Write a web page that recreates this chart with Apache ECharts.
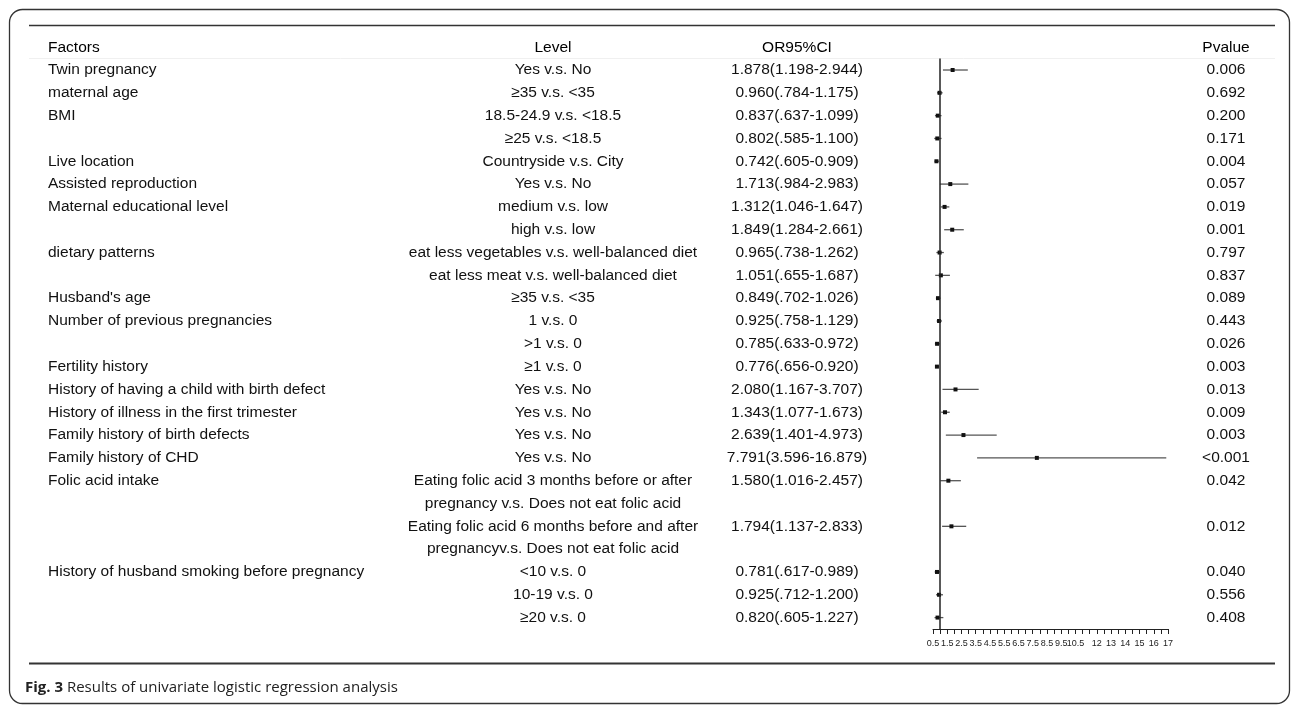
<!DOCTYPE html>
<html>
<head>
<meta charset="utf-8">
<script src="https://cdn.jsdelivr.net/npm/echarts@6/dist/echarts.min.js"></script>
<style>
  html, body { margin: 0; padding: 0; background: #fff; }
  #chart { width: 1292px; height: 706px; }
</style>
</head>
<body>
<div id="chart"></div>
<script>
// one entry per printed line of the table (folic acid levels take two lines)
var factors = ['Twin pregnancy', 'maternal age', 'BMI', '', 'Live location', 'Assisted reproduction',
  'Maternal educational level', '', 'dietary patterns', '', "Husband's age", 'Number of previous pregnancies', '',
  'Fertility history', 'History of having a child with birth defect', 'History of illness in the first trimester',
  'Family history of birth defects', 'Family history of CHD', 'Folic acid intake', '', '', '',
  'History of husband smoking before pregnancy', '', ''];
var levels = ['Yes v.s. No', '≥35 v.s. <35', '18.5-24.9 v.s. <18.5', '≥25 v.s. <18.5', 'Countryside v.s. City',
  'Yes v.s. No', 'medium v.s. low', 'high v.s. low', 'eat less vegetables v.s. well-balanced diet',
  'eat less meat v.s. well-balanced diet', '≥35 v.s. <35', '1 v.s. 0', '>1 v.s. 0', '≥1 v.s. 0',
  'Yes v.s. No', 'Yes v.s. No', 'Yes v.s. No', 'Yes v.s. No',
  'Eating folic acid 3 months before or after', 'pregnancy v.s. Does not eat folic acid',
  'Eating folic acid 6 months before and after', 'pregnancyv.s. Does not eat folic acid',
  '<10 v.s. 0', '10-19 v.s. 0', '≥20 v.s. 0'];
var orVals = [1.878, 0.960, 0.837, 0.802, 0.742, 1.713, 1.312, 1.849, 0.965, 1.051, 0.849, 0.925, 0.785,
  0.776, 2.080, 1.343, 2.639, 7.791, 1.580, null, 1.794, null, 0.781, 0.925, 0.820];
var ciLow = [1.198, 0.784, 0.637, 0.585, 0.605, 0.984, 1.046, 1.284, 0.738, 0.655, 0.702, 0.758, 0.633,
  0.656, 1.167, 1.077, 1.401, 3.596, 1.016, null, 1.137, null, 0.617, 0.712, 0.605];
var ciHigh = [2.944, 1.175, 1.099, 1.100, 0.909, 2.983, 1.647, 2.661, 1.262, 1.687, 1.026, 1.129, 0.972,
  0.920, 3.707, 1.673, 4.973, 16.879, 2.457, null, 2.833, null, 0.989, 1.200, 1.227];
var pvalues = ['0.006', '0.692', '0.200', '0.171', '0.004', '0.057', '0.019', '0.001', '0.797', '0.837',
  '0.089', '0.443', '0.026', '0.003', '0.013', '0.009', '0.003', '<0.001', '0.042', '', '0.012', '',
  '0.040', '0.556', '0.408'];

var rowIds = levels.map(function (d, i) { return String(i); });
var orText = orVals.map(function (v, i) {
  if (v == null) return '';
  return v.toFixed(3) + '(' + ciLow[i].toFixed(3).replace(/^0/, '') + '-' + ciHigh[i].toFixed(3) + ')';
});
var forestData = [];
orVals.forEach(function (v, i) {
  if (v != null) forestData.push([i, ciLow[i], ciHigh[i], v]);
});

var FONT = "'Liberation Sans', Arial, sans-serif";
var txt = { color: '#111', fontSize: 15.5, fontFamily: FONT };

function colAxis(pos, margin, align, arr) {
  return {
    type: 'category', data: rowIds, inverse: true, position: pos,
    axisLine: { show: false }, axisTick: { show: false }, splitLine: { show: false },
    axisLabel: Object.assign({
      interval: 0, margin: margin, align: align,
      formatter: function (v, i) { return arr[i]; }
    }, txt)
  };
}

var myChart = echarts.init(document.getElementById('chart'));
myChart.setOption({
  backgroundColor: '#fff',
  animation: false,
  grid: { left: 933, right: 124, top: 58.6, height: 570.4 },
  xAxis: {
    type: 'value', min: 0.5, max: 17, interval: 0.5,
    splitLine: { show: false },
    axisLine: { show: true, lineStyle: { color: '#222', width: 1 } },
    axisTick: { show: true, length: 5, lineStyle: { color: '#222', width: 1 } },
    axisLabel: {
      margin: 10, fontSize: 9, color: '#222', fontFamily: FONT, hideOverlap: false,
      showMinLabel: true, showMaxLabel: true,
      formatter: function (v) {
        if (v <= 10.5 && (v * 2) % 2 === 1) return String(v);
        if (v >= 12 && v % 1 === 0) return String(v);
        return '';
      }
    }
  },
  yAxis: [
    colAxis('left', 885, 'left', factors),
    colAxis('left', 380, 'center', levels),
    colAxis('left', 136, 'center', orText),
    colAxis('right', 58, 'center', pvalues)
  ],
  series: [{
    type: 'custom',
    yAxisIndex: 0,
    encode: { x: [1, 2, 3], y: 0 },
    data: forestData,
    renderItem: function (params, api) {
      var row = api.value(0);
      var a = api.coord([api.value(1), row]);
      var b = api.coord([api.value(2), row]);
      var c = api.coord([api.value(3), row]);
      return {
        type: 'group',
        children: [
          { type: 'line', shape: { x1: a[0], y1: a[1], x2: b[0], y2: b[1] },
            style: { stroke: '#555', lineWidth: 1.3 } },
          { type: 'rect', shape: { x: c[0] - 2, y: c[1] - 2, width: 4, height: 4 },
            style: { fill: '#111' } }
        ]
      };
    },
    markLine: {
      silent: true, symbol: 'none', label: { show: false },
      lineStyle: { color: '#222', width: 1.5, type: 'solid' },
      data: [{ xAxis: 1 }]
    }
  }],
  graphic: [
    { type: 'rect', shape: { x: 9.5, y: 9.5, width: 1280, height: 694, r: 13 },
      style: { fill: 'none', stroke: '#333', lineWidth: 1.3 } },
    { type: 'line', shape: { x1: 29, y1: 25.5, x2: 1275, y2: 25.5 },
      style: { stroke: '#333', lineWidth: 1.5 } },
    { type: 'line', shape: { x1: 29, y1: 663.5, x2: 1275, y2: 663.5 },
      style: { stroke: '#333', lineWidth: 2 } },
    { type: 'line', shape: { x1: 29, y1: 58.5, x2: 1275, y2: 58.5 },
      style: { stroke: '#f0f0f0', lineWidth: 1 } },
    { type: 'text', x: 48, y: 48, style: Object.assign({ text: 'Factors', align: 'left', verticalAlign: 'middle' }, txt) },
    { type: 'text', x: 553, y: 48, style: Object.assign({ text: 'Level', align: 'center', verticalAlign: 'middle' }, txt) },
    { type: 'text', x: 797, y: 48, style: Object.assign({ text: 'OR95%CI', align: 'center', verticalAlign: 'middle' }, txt) },
    { type: 'text', x: 1226, y: 48, style: Object.assign({ text: 'Pvalue', align: 'center', verticalAlign: 'middle' }, txt) },
    { type: 'text', x: 25, y: 688, style: {
      text: '{b|Fig. 3} Results of univariate logistic regression analysis',
      fontFamily: "'Open Sans', sans-serif", fontSize: 15, fill: '#222', verticalAlign: 'middle',
      rich: { b: { fontWeight: 'bold', fontFamily: "'Open Sans', sans-serif", fontSize: 15, fill: '#222' } }
    } }
  ]
});
window.addEventListener('resize', function () { myChart.resize(); });
</script>
</body>
</html>
